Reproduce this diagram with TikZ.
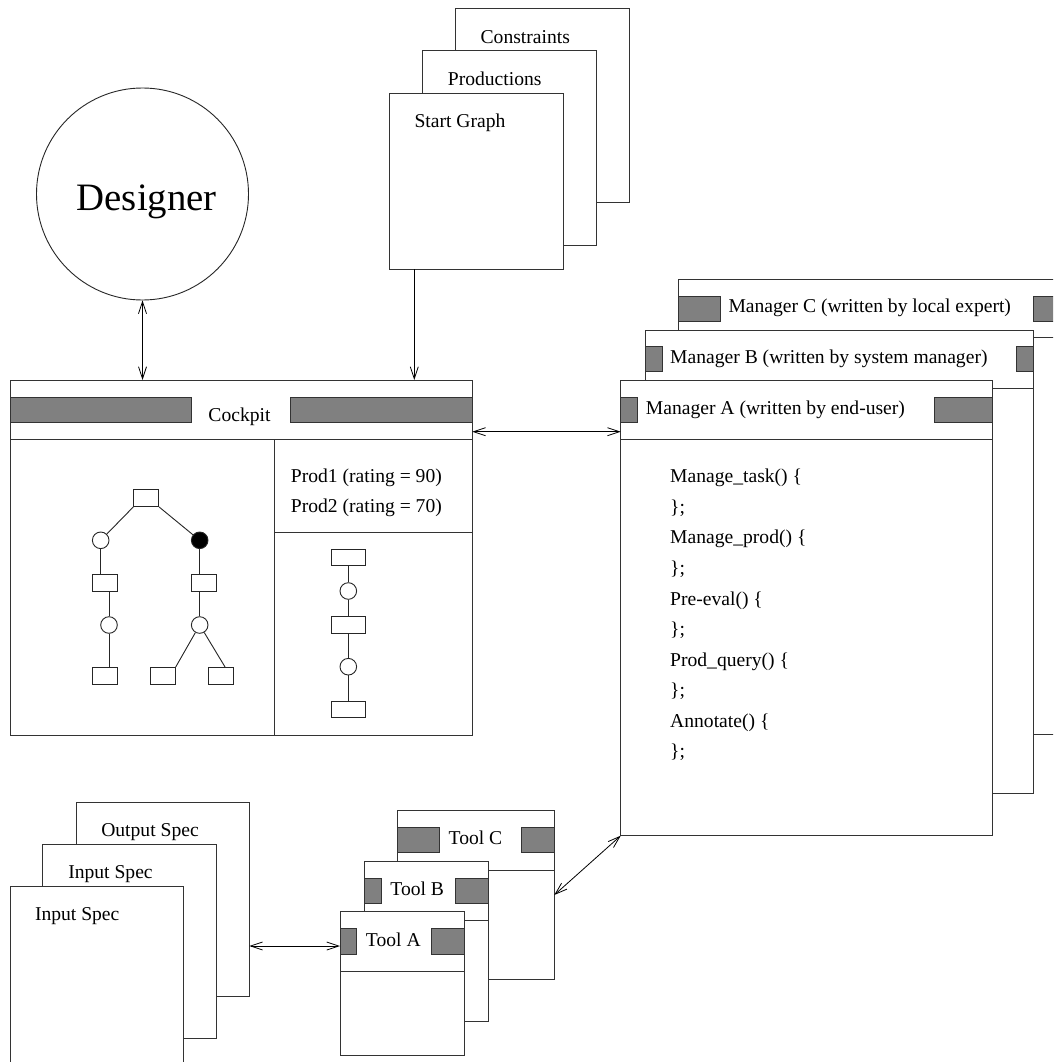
\documentclass[tikz,border=0pt]{standalone}
\usepackage{fontspec}
\setmainfont{Liberation Serif}
\usetikzlibrary{arrows.meta,calc}

\tikzset{
  sheet/.style={draw=black!80, fill=white, line width=1pt, anchor=north west,
                inner sep=0pt, outer sep=0pt},
  rulebar/.style={draw=black!80, fill=black!50, line width=0.9pt},
  divider/.style={draw=black!80, line width=1pt},
  lbl/.style={inner sep=0pt, font=\fontsize{19.6}{23}\selectfont},
  gnode/.style={draw=black!85, fill=white, line width=0.9pt, inner sep=0pt},
  grect/.style={gnode, rectangle, minimum width=25pt, minimum height=16.7pt},
  wrect/.style={gnode, rectangle, minimum width=33.3pt, minimum height=16.7pt},
  gcirc/.style={gnode, circle, minimum size=16.6pt},
  gedge/.style={draw=black!85, line width=0.9pt},
  tip/.style={Straight Barb[length=12pt,width=8pt]},
  onearrow/.style={line width=0.8pt, -{Straight Barb[length=12pt,width=8pt]}},
  twoarrow/.style={line width=0.8pt, {Straight Barb[length=12pt,width=8pt]}-{Straight Barb[length=12pt,width=8pt]}},
}

% a sheet given by its top left and bottom right corners
\newcommand\sheetbox[5]{%
  \node[sheet, minimum width={(#4-#2)*1pt}, minimum height={(#5-#3)*1pt}] (#1) at (#2,#3) {};}

\begin{document}
\begin{tikzpicture}[x=1pt,y=-1pt]
\clip (0,0) rectangle (1053,1062);
\fill[white] (0,0) rectangle (1053,1062);

% ---------- designer ----------
\node[draw=black!85, line width=0.9pt, circle, minimum size=212pt, inner sep=0pt] (designer) at (142.5,194) {};
\node[inner sep=0pt, anchor=base, font=\fontsize{38.8}{44}\selectfont] (designer-t) at (146.7,210) {Designer};

% ---------- grammar sheets ----------
\sheetbox{constraints}{455.7}{8.3}{629}{202.7}
\node[lbl, anchor=base] (constraints-t) at (525.3,43.7) {Constraints};
\sheetbox{productions}{422.3}{51}{596}{245}
\node[lbl, anchor=base] (productions-t) at (494.7,85.7) {Productions};
\sheetbox{start}{389.3}{93.3}{563}{269.3}
\node[lbl, anchor=base west] (start-t) at (414.3,127.7) {Start Graph};

% ---------- cockpit ----------
\sheetbox{cockpit}{10}{380}{472.3}{735}
\path[rulebar] (10,397.3) rectangle (191.7,422.3);
\path[rulebar] (290,397.3) rectangle (472.3,422.3);
\node[lbl, anchor=base] (cockpit-t) at (239.5,421.7) {Cockpit};
\draw[divider] (10,439) -- (472.3,439);
\draw[divider] (274.3,439) -- (274.3,735);
\draw[divider] (274.3,532.3) -- (472.3,532.3);
\node[lbl, anchor=base west] (prod1) at (290.7,482.7) {Prod1 (rating = 90)};
\node[lbl, anchor=base west] (prod2) at (290.7,512.3) {Prod2 (rating = 70)};

% derivation tree
\node[grect] (root) at (146.2,498.2) {};
\node[gcirc] (c1) at (100.7,540.3) {};
\node[gcirc, fill=black] (c2) at (199.7,540.3) {};
\node[grect] (r1) at (104.8,582.7) {};
\node[grect] (r2) at (203.8,582.7) {};
\node[gcirc] (c3) at (109,625) {};
\node[gcirc] (c4) at (199.7,625) {};
\node[grect] (r4) at (104.8,675.7) {};
\node[grect] (r5) at (162.8,675.7) {};
\node[grect] (r6) at (220.8,675.7) {};
\draw[gedge] (root.south west) -- (c1);
\draw[gedge] (root.south east) -- (c2);
\draw[gedge] (c1.south) -- (c1.south |- r1.north);
\draw[gedge] (c3.north) -- (c3.north |- r1.south);
\draw[gedge] (c3.south) -- (c3.south |- r4.north);
\draw[gedge] (c2.south) -- (c2.south |- r2.north);
\draw[gedge] (c4.north) -- (c4.north |- r2.south);
\draw[gedge] (c4) -- (r5.north east);
\draw[gedge] (c4) -- ([xshift=4.2pt]r6.north);

% production chain
\node[wrect] (q1) at (348.3,557.3) {};
\node[gcirc] (d1) at (348.3,591) {};
\node[wrect] (q2) at (348.3,625) {};
\node[gcirc] (d2) at (348.3,666.7) {};
\node[wrect] (q3) at (348.3,709.3) {};
\draw[gedge] (q1) -- (d1);
\draw[gedge] (d1) -- (q2);
\draw[gedge] (q2) -- (d2);
\draw[gedge] (d2) -- (q3);

% ---------- managers ----------
\sheetbox{mgrC}{678.3}{279}{1080}{734.3}
\path[rulebar] (678.3,296.7) rectangle (720,321);
\path[rulebar] (1033,296.7) rectangle (1080,321);
\node[lbl, anchor=base west] (mgrC-t) at (728.3,312.7) {Manager C (written by local expert)};
\draw[divider] (678.3,337.7) -- (1080,337.7);

\sheetbox{mgrB}{645}{330}{1033.3}{793.3}
\path[rulebar] (645,346.7) rectangle (662,371.7);
\path[rulebar] (1016.7,346.7) rectangle (1033.3,371.7);
\node[lbl, anchor=base west] (mgrB-t) at (670,363.3) {Manager B (written by system manager)};
\draw[divider] (645,388.3) -- (1033.3,388.3);

\sheetbox{mgrA}{620.7}{380}{992}{835.7}
\path[rulebar] (620.7,397.7) rectangle (637.3,422.3);
\path[rulebar] (934,397.7) rectangle (992,422.3);
\node[lbl, anchor=base west] (mgrA-t) at (645.7,414) {Manager A (written by end-user)};
\draw[divider] (620.7,439.3) -- (992,439.3);

\foreach \txt [count=\i from 0] in {Manage\_task() \{, \};, Manage\_prod() \{, \};,
    Pre-eval() \{, \};, Prod\_query() \{, \};, Annotate() \{, \};}
  \node[lbl, anchor=base west] (code-\i) at (670,482.7+30.58*\i) {\txt};

% ---------- specifications ----------
\sheetbox{outspec}{76.3}{802.3}{249.3}{996}
\node[lbl, anchor=base] (outspec-t) at (150,836.7) {Output Spec};
\sheetbox{inspecB}{42.7}{844.3}{216.7}{1038.3}
\node[lbl, anchor=base] (inspecB-t) at (110.5,878.3) {Input Spec};
\sheetbox{inspecA}{10}{886.7}{183.3}{1075}
\node[lbl, anchor=base] (inspecA-t) at (77.2,920.7) {Input Spec};

% ---------- tools ----------
\sheetbox{toolC}{397.7}{810}{554.3}{979}
\path[rulebar] (397.7,827.7) rectangle (439.3,852.7);
\path[rulebar] (521.7,827.7) rectangle (554.3,852.7);
\node[lbl, anchor=base] (toolC-t) at (475.5,844.3) {Tool C};
\draw[divider] (397.7,870) -- (554.3,870);

\sheetbox{toolB}{364.3}{861}{488.3}{1021.7}
\path[rulebar] (364.3,878.3) rectangle (381.7,903.3);
\path[rulebar] (455.7,878.3) rectangle (488.3,903.3);
\node[lbl, anchor=base] (toolB-t) at (417.2,895.7) {Tool B};
\draw[divider] (364.3,920) -- (488.3,920);

\sheetbox{toolA}{340}{911.7}{464.3}{1055.7}
\path[rulebar] (340,928.3) rectangle (356.7,954.3);
\path[rulebar] (431,928.3) rectangle (464.3,954.3);
\node[lbl, anchor=base] (toolA-t) at (393.3,946.7) {Tool A};
\draw[divider] (340,971) -- (464.3,971);

% ---------- connectors ----------
\draw[twoarrow] (designer.south) -- (designer.south |- cockpit.north);
\draw[onearrow] ([xshift=25pt]start.south west) -- ([xshift=25pt]start.south west |- cockpit.north);
\draw[twoarrow] ([yshift=-51.7pt]cockpit.north east) -- ([yshift=-51.7pt]cockpit.north east -| mgrA.west);
\draw[twoarrow] ([yshift=-34.3pt]toolA.north west -| outspec.east) -- ([yshift=-34.3pt]toolA.north west);
\draw[twoarrow] ([yshift=-85pt]toolC.north east) -- (mgrA.south west);
\end{tikzpicture}
\end{document}
